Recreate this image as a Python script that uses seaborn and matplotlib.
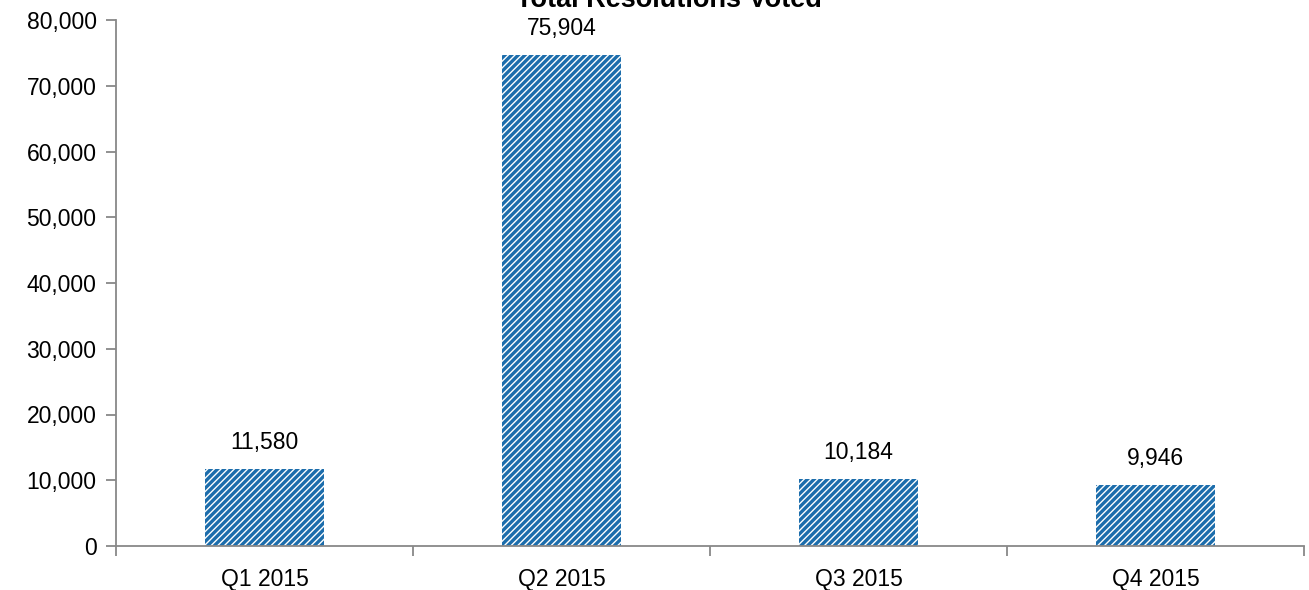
import matplotlib
matplotlib.use("Agg")
import matplotlib.pyplot as plt
import seaborn as sns
import pandas as pd
import numpy as np
from matplotlib.ticker import FuncFormatter, FixedLocator

categories = ["Q1 2015", "Q2 2015", "Q3 2015", "Q4 2015"]
# bar heights as drawn in the reference
bar_values = [11650, 74650, 10150, 9270]
# data labels as printed in the reference
labels = ["11,580", "75,904", "10,184", "9,946"]
title = "Total Resolutions Voted"

sns.set_style("white")
plt.rcParams['font.family'] = ['Liberation Sans', 'DejaVu Sans']
plt.rcParams['hatch.linewidth'] = 2.4
plt.rcParams['hatch.color'] = '#1c6dac'

FS = 16.5

fig = plt.figure(figsize=(13.09, 5.90), dpi=100)
ax = fig.add_axes([116/1309, 1 - 546/590, (1304-116)/1309, (546-20)/590])

df = pd.DataFrame({"cat": categories, "val": bar_values})
sns.barplot(data=df, x="cat", y="val", ax=ax, width=0.4, color="white",
            edgecolor="#1c6dac", linewidth=0)
for p in ax.patches:
    p.set_hatch("/////")
    p.set_facecolor("white")
    p.set_edgecolor("#1c6dac")
    p.set_linewidth(0)

for i, (v, lab) in enumerate(zip(bar_values, labels)):
    ax.annotate(lab, (i, v), xytext=(0, 11), textcoords="offset points",
                ha="center", va="bottom", fontsize=FS, color="black")

ax.set_ylim(0, 80000)
ax.set_xlim(-0.5, 3.5)
ax.yaxis.set_major_locator(FixedLocator(np.arange(0, 80001, 10000)))
ax.yaxis.set_major_formatter(FuncFormatter(lambda v, p: f"{int(v):,}"))
ax.set_xlabel("")
ax.set_ylabel("")

for s in ["top", "right"]:
    ax.spines[s].set_visible(False)
for s in ["left", "bottom"]:
    ax.spines[s].set_color("#888888")
    ax.spines[s].set_linewidth(1.3)

ax.tick_params(axis="y", which="major", left=True, length=7, width=1.3,
               color="#888888", labelsize=FS, pad=7, labelcolor="black")
ax.set_xticks([0, 1, 2, 3])
ax.set_xticklabels(categories)
ax.tick_params(axis="x", which="major", bottom=False, labelsize=FS, pad=12, labelcolor="black")
ax.set_xticks([-0.5, 0.5, 1.5, 2.5, 3.5], minor=True)
ax.tick_params(axis="x", which="minor", bottom=True, length=7, width=1.3, color="#888888")

fig.text(669/1309, 1 - 7/590, title, ha="center", va="baseline",
         fontsize=19.5, fontweight="bold", color="black")

fig.savefig("out.png", dpi=100, facecolor="white")
